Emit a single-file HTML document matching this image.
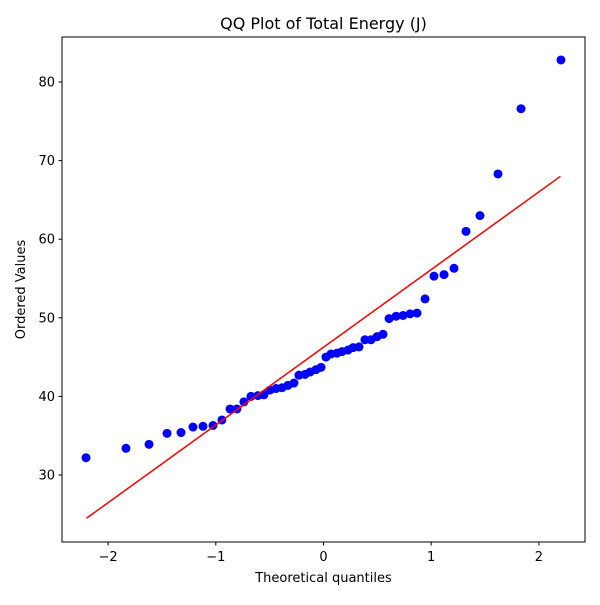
<!DOCTYPE html>
<html><head><meta charset="utf-8"><style>
body{margin:0;background:#fff;font-family:"Liberation Sans","DejaVu Sans",sans-serif}
svg text{font-family:"DejaVu Sans","Liberation Sans",sans-serif}
</style></head><body>
<svg id="chart" width="600" height="600">
<rect width="600" height="600" fill="#fff"/>
<g id="marks"></g>
<rect x="62" y="37" width="523" height="505" fill="none" stroke="#000" stroke-width="1"/>
<g id="axes"></g>
<text x="323.5" y="29" font-size="16" text-anchor="middle">QQ Plot of Total Energy (J)</text>
<text x="323.5" y="582" font-size="13" text-anchor="middle">Theoretical quantiles</text>
<text x="25" y="289.5" font-size="13" text-anchor="middle" transform="rotate(-90 25 289.5)">Ordered Values</text>
</svg>
<script>
const quantiles=[-2.205,-1.834,-1.62,-1.453,-1.323,-1.212,-1.119,-1.026,-0.943,-0.868,-0.804,-0.739,-0.674,-0.609,-0.553,-0.497,-0.441,-0.385,-0.330,-0.274,-0.228,-0.172,-0.125,-0.070,-0.023,0.023,0.070,0.125,0.172,0.228,0.274,0.330,0.385,0.441,0.497,0.553,0.609,0.674,0.739,0.804,0.868,0.943,1.026,1.119,1.212,1.323,1.453,1.62,1.834,2.205];
const values=[32.2,33.4,33.9,35.3,35.4,36.1,36.2,36.3,37.0,38.4,38.4,39.3,40.0,40.1,40.2,40.8,41.0,41.1,41.4,41.7,42.7,42.8,43.1,43.4,43.7,45.0,45.4,45.5,45.7,45.9,46.2,46.3,47.2,47.2,47.6,47.9,49.9,50.2,50.3,50.5,50.6,52.4,55.3,55.5,56.3,61.0,63.0,68.3,76.6,82.8];
const fitLineX=[-2.2,2.2];
const fitLineY=[24.5,68.0];
const xTicks=[-2,-1,0,1,2];
const yTicks=[30,40,50,60,70,80];
const NS="http://www.w3.org/2000/svg";
function xs(v){return 323.5+v*107.7;}
function ys(v){return 475-(v-30)*7.86;}
const marks=document.getElementById('marks'), axes=document.getElementById('axes');
const line=document.createElementNS(NS,'line');
line.setAttribute('x1',xs(fitLineX[0]));line.setAttribute('y1',ys(fitLineY[0]));
line.setAttribute('x2',xs(fitLineX[1]));line.setAttribute('y2',ys(fitLineY[1]));
line.setAttribute('stroke','#ff0000');line.setAttribute('stroke-width','1.5');


marks.appendChild(line);
quantiles.forEach((q,i)=>{
  const c=document.createElementNS(NS,'circle');
  c.setAttribute('cx',xs(q));c.setAttribute('cy',ys(values[i]));c.setAttribute('r','4.5');c.setAttribute('fill','#0000ff');
  
  
  marks.insertBefore(c,line);
});
xTicks.forEach(t=>{
  const x=xs(t);
  const l=document.createElementNS(NS,'line');
  l.setAttribute('x1',x);l.setAttribute('x2',x);l.setAttribute('y1',542);l.setAttribute('y2',545.5);l.setAttribute('stroke','#000');
  
  
  axes.appendChild(l);
  const tx=document.createElementNS(NS,'text');
  tx.setAttribute('x',x);tx.setAttribute('y',561);tx.setAttribute('font-size','13');tx.setAttribute('text-anchor','middle');
  tx.textContent=(t<0?'\u2212'+Math.abs(t):t);
  
  
  axes.appendChild(tx);
});
yTicks.forEach(t=>{
  const y=ys(t);
  const l=document.createElementNS(NS,'line');
  l.setAttribute('x1',58.5);l.setAttribute('x2',62);l.setAttribute('y1',y);l.setAttribute('y2',y);l.setAttribute('stroke','#000');
  
  
  axes.appendChild(l);
  const tx=document.createElementNS(NS,'text');
  tx.setAttribute('x',55);tx.setAttribute('y',y+4.5);tx.setAttribute('font-size','13');tx.setAttribute('text-anchor','end');
  tx.textContent=t;
  
  
  axes.appendChild(tx);
});
</script>
</body></html>
